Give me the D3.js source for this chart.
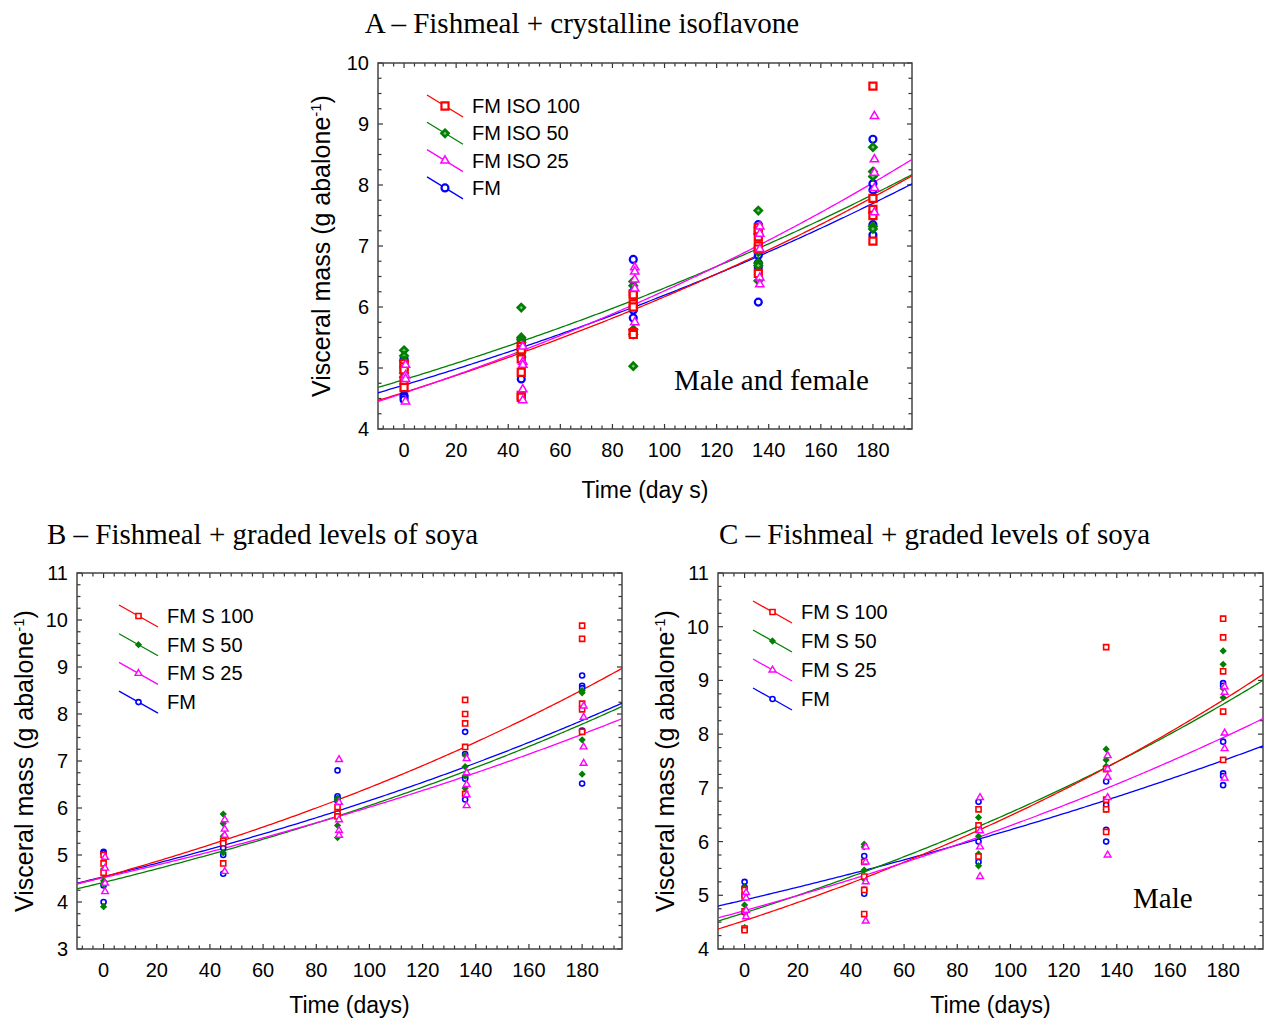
<!DOCTYPE html>
<html><head><meta charset="utf-8">
<script src="https://cdn.jsdelivr.net/npm/d3@7/dist/d3.min.js"></script>
<style>
body{margin:0;background:#fff;}
svg{display:block;}
.tick-label{font-family:"Liberation Sans",Arial,sans-serif;font-size:20px;fill:#000;}
.axis-title{font-family:"Liberation Sans",Arial,sans-serif;font-size:23px;fill:#000;}
.legend-text{font-family:"Liberation Sans",Arial,sans-serif;font-size:20px;fill:#000;}
.serif{font-family:"Liberation Serif","Times New Roman",serif;font-size:29px;fill:#000;}
</style></head>
<body>
<svg id="chart" width="1264" height="1021"></svg>
<script>
// ---------------- DATA ----------------
const days = [0, 45, 88, 136, 180];
const xTicks = [0, 20, 40, 60, 80, 100, 120, 140, 160, 180];
const colors = ["#ff0000", "#008000", "#ff00ff", "#0000ff"];

// Panel A
const titleA = "A \u2013 Fishmeal + crystalline isoflavone";
const seriesA = ["FM ISO 100", "FM ISO 50", "FM ISO 25", "FM"];
const yTicksA = [4, 5, 6, 7, 8, 9, 10];
const isoA100 = [[5.07, 5.02, 4.97, 4.8, 4.68], [5.35, 5.3, 5.15, 4.93, 4.55, 4.52], [6.22, 6.2, 6.05, 6.0, 5.58, 5.55], [7.3, 7.25, 7.15, 7.0, 6.95, 6.55], [9.62, 7.78, 7.6, 7.5, 7.08]];
const isoA50 = [[5.29, 5.2, 5.12, 4.92, 4.85], [5.99, 5.5, 5.47, 5.42, 5.25, 5.18], [6.42, 6.35, 5.63, 5.55, 5.03], [7.58, 7.2, 6.9, 6.72, 6.68, 6.43], [8.62, 8.22, 8.14, 7.32, 7.28]];
const isoA25 = [[5.05, 4.88, 4.82, 4.45], [5.35, 5.1, 5.05, 4.65, 4.47], [6.65, 6.58, 6.45, 6.3, 5.75], [7.32, 7.2, 6.95, 6.48, 6.37], [9.13, 8.42, 8.2, 7.95, 7.55]];
const fmA = [[5.15, 5.1, 4.55, 4.52, 4.48], [5.45, 5.4, 5.3, 4.82], [6.78, 6.25, 6.2, 6.0, 5.95, 5.82], [7.35, 7.3, 6.85, 6.72, 6.65, 6.08], [8.75, 8.02, 7.92, 7.35, 7.18]];
const fitA_a = [4.60, 4.81, 4.59, 4.72];
const fitA_b = [0.002933, 0.002717, 0.003111, 0.002718];

// Panel B
const titleB = "B \u2013 Fishmeal + graded levels of soya";
const seriesBC = ["FM S 100", "FM S 50", "FM S 25", "FM"];
const yTicksB = [3, 4, 5, 6, 7, 8, 9, 10, 11];
const soyB100 = [[5.0, 4.82, 4.62], [5.3, 5.25, 4.82], [6.02, 5.88, 5.82], [8.3, 8.0, 7.8, 7.3, 6.3], [9.88, 9.6, 8.22, 8.1, 7.62]];
const soyB50 = [[4.7, 4.45, 4.38, 3.9], [5.87, 5.67, 5.4, 5.05], [6.2, 6.15, 5.85, 5.63, 5.37], [7.12, 6.88, 6.68, 6.42], [8.5, 8.45, 8.12, 7.45, 6.72]];
const soyB25 = [[4.95, 4.72, 4.4, 4.22], [5.75, 5.55, 5.42, 4.65], [7.03, 6.12, 5.75, 5.52, 5.42], [7.05, 6.75, 6.5, 6.28, 6.05], [8.17, 7.93, 7.3, 6.95]];
const fmB = [[5.07, 5.04, 4.35, 4.0], [5.15, 5.0, 4.6], [6.8, 6.25, 6.2, 6.15], [7.62, 7.15, 6.65, 6.62, 6.18], [8.82, 8.6, 8.55, 7.65, 6.52]];
const fitB_a = [4.536, 4.417, 4.518, 4.537];
const fitB_b = [0.003497, 0.003148, 0.002866, 0.003054];

// Panel C
const titleC = "C \u2013 Fishmeal + graded levels of soya";
const yTicksC = [4, 5, 6, 7, 8, 9, 10, 11];
const soyC100 = [[5.1, 4.98, 4.7, 4.38, 4.35], [5.62, 5.35, 5.1, 4.65], [6.6, 6.3, 6.22, 5.72], [9.62, 7.35, 6.78, 6.6, 6.18], [10.15, 9.8, 9.17, 8.42, 7.52]];
const soyC50 = [[5.15, 5.12, 4.82, 4.4], [5.95, 5.9, 5.47, 5.3], [6.45, 6.1, 5.77, 5.55], [7.72, 7.52, 7.4, 6.6], [9.55, 9.3, 8.85, 8.68]];
const soyC25 = [[5.05, 4.95, 4.72, 4.6], [5.9, 5.62, 5.25, 4.52], [6.82, 6.2, 5.9, 5.35], [7.6, 7.35, 7.2, 6.82, 5.75], [8.88, 8.78, 8.02, 7.73, 7.18]];
const fmC = [[5.25, 5.15, 5.0, 4.68], [5.73, 5.1, 5.03], [6.74, 6.0, 5.62], [7.12, 6.68, 6.22, 6.0], [8.95, 8.9, 7.86, 7.27, 7.22, 7.05]];
const fitC_a = [4.53, 4.674, 4.714, 4.914];
const fitC_b = [0.003584, 0.00336, 0.002894, 0.002356];

// ---------------- DRAWING ----------------
const svg = d3.select("#chart");
const diamondType = d3.symbolDiamond2 || d3.symbolSquare;
const symbolTypes = [d3.symbolSquare, diamondType, d3.symbolTriangle, d3.symbolCircle];

function drawPanel(cfg) {
  const g = svg.append("g");
  const x = d3.scaleLinear().domain([-10, 195]).range([cfg.left, cfg.right]);
  const y = d3.scaleLinear().domain(cfg.yDomain).range([cfg.bottom, cfg.top]);
  const clipId = "clip" + cfg.id;
  svg.append("clipPath").attr("id", clipId).append("rect")
    .attr("x", cfg.left).attr("y", cfg.top).attr("width", cfg.right - cfg.left).attr("height", cfg.bottom - cfg.top);

  // ticks (inward, all four sides)
  const minorX = d3.range(-8, 195, 4);
  const minorY = d3.range(cfg.yDomain[0], cfg.yDomain[1] + 0.001, 0.25);
  const tg = g.append("g").attr("stroke", "#333").attr("stroke-width", 1.2);
  minorX.forEach(v => {
    const len = (v % 20 === 0) ? 5 : 3.5;
    tg.append("line").attr("x1", x(v)).attr("x2", x(v)).attr("y1", cfg.bottom).attr("y2", cfg.bottom - len);
    tg.append("line").attr("x1", x(v)).attr("x2", x(v)).attr("y1", cfg.top).attr("y2", cfg.top + len);
  });
  minorY.forEach(v => {
    const len = (Math.abs(v - Math.round(v)) < 1e-6) ? 5 : 3.5;
    tg.append("line").attr("y1", y(v)).attr("y2", y(v)).attr("x1", cfg.left).attr("x2", cfg.left + len);
    tg.append("line").attr("y1", y(v)).attr("y2", y(v)).attr("x1", cfg.right).attr("x2", cfg.right - len);
  });
  // frame
  g.append("rect").attr("x", cfg.left).attr("y", cfg.top)
    .attr("width", cfg.right - cfg.left).attr("height", cfg.bottom - cfg.top)
    .attr("fill", "none").attr("stroke", "#444").attr("stroke-width", 1.5);

  // tick labels
  g.selectAll(".xl").data(xTicks).enter().append("text").attr("class", "tick-label")
    .attr("x", d => x(d)).attr("y", cfg.bottom + 28).attr("text-anchor", "middle").text(d => d);
  g.selectAll(".yl").data(cfg.yTicks).enter().append("text").attr("class", "tick-label")
    .attr("x", cfg.left - 9).attr("y", d => y(d) + 7).attr("text-anchor", "end").text(d => d);

  // axis titles
  g.append("text").attr("class", "axis-title")
    .attr("x", (cfg.left + cfg.right) / 2).attr("y", cfg.bottom + cfg.xTitleDy)
    .attr("text-anchor", "middle").attr("xml:space", "preserve").text(cfg.xTitle);
  const yt = g.append("text").attr("class", "axis-title").style("font-size", "25px")
    .attr("transform", `translate(${cfg.yTitleX},${(cfg.top + cfg.bottom) / 2}) rotate(-90)`)
    .attr("text-anchor", "middle");
  yt.append("tspan").text("Visceral mass (g abalone");
  yt.append("tspan").attr("dy", -9).style("font-size", "15px").text("-1");
  yt.append("tspan").attr("dy", 9).text(")");

  // chart title
  g.append("text").attr("class", "serif").attr("x", cfg.titleX).attr("y", cfg.titleY)
    .attr("text-anchor", cfg.titleAnchor).text(cfg.title);
  if (cfg.note) {
    g.append("text").attr("class", "serif").attr("x", cfg.noteX).attr("y", cfg.noteY).text(cfg.note);
  }

  // fitted lines
  const xs = d3.range(-10, 195.01, 1);
  const lg = g.append("g").attr("clip-path", `url(#${clipId})`);
  const drawOrder = [3, 1, 0, 2];
  drawOrder.forEach(i => {
    const line = d3.line().x(d => x(d)).y(d => y(cfg.fitA[i] * Math.exp(cfg.fitB[i] * d)));
    lg.append("path").attr("d", line(xs)).attr("fill", "none")
      .attr("stroke", colors[i]).attr("stroke-width", 1.3);
  });

  // points
  const pg = g.append("g");
  const offsets = [0, 0, 1.5, 0];
  drawOrder.forEach(i => {
    const ser = cfg.series[i];
    ser.forEach((vals, k) => {
      vals.forEach(v => {
        drawMarker(pg, i, x(days[k]) + offsets[i], y(v), cfg.big);
      });
    });
  });

  // legend
  const leg = g.append("g");
  cfg.legendNames.forEach((name, i) => {
    const cy = cfg.legY + i * cfg.legStep;
    leg.append("line").attr("x1", cfg.legX).attr("x2", cfg.legX + cfg.legW)
      .attr("y1", cy - 11).attr("y2", cy + 11).attr("stroke", colors[i]).attr("stroke-width", 1.3);
    drawMarker(leg, i, cfg.legX + cfg.legW / 2, cy, cfg.big);
    leg.append("text").attr("class", "legend-text").attr("x", cfg.legX + cfg.legW + 9)
      .attr("y", cy + 7).text(name);
  });
}

function drawMarker(parent, i, cx, cy, big) {
  const sizes = big ? [50, 32, 30, 38] : [26, 16, 20, 20];
  const sw = big ? [2.2, 2.6, 1.5, 2.2] : [1.6, 1.6, 1.4, 1.6];
  const fills = big ? ["#fff", "#7fbf7f", "#fff", "#fff"] : ["#fff", colors[1], "#fff", "#fff"];
  parent.append("path")
    .attr("d", d3.symbol().type(symbolTypes[i]).size(sizes[i])())
    .attr("transform", `translate(${cx},${cy})` + (d3.symbolDiamond2 || i !== 1 ? "" : " rotate(45)"))
    .attr("fill", fills[i]).attr("stroke", colors[i]).attr("stroke-width", sw[i]);
}

drawPanel({
  id: "A", left: 378, right: 912, top: 63, bottom: 429, yDomain: [4, 10], yTicks: yTicksA,
  series: [isoA100, isoA50, isoA25, fmA], fitA: fitA_a, fitB: fitA_b,
  xTitle: "Time (day s)", xTitleDy: 69, yTitleX: 330, title: titleA, titleX: 582, titleY: 33, titleAnchor: "middle",
  note: "Male and female", noteX: 674, noteY: 390, big: true,
  legendNames: seriesA, legX: 427, legW: 36, legY: 106, legStep: 27.3
});
drawPanel({
  id: "B", left: 77, right: 622, top: 573, bottom: 949, yDomain: [3, 11], yTicks: yTicksB,
  series: [soyB100, soyB50, soyB25, fmB], fitA: fitB_a, fitB: fitB_b,
  xTitle: "Time (days)", xTitleDy: 64, yTitleX: 33, title: titleB, titleX: 47, titleY: 544, titleAnchor: "start",
  big: false,
  legendNames: seriesBC, legX: 119, legW: 39, legY: 616, legStep: 28.7
});
drawPanel({
  id: "C", left: 718, right: 1263, top: 573, bottom: 949, yDomain: [4, 11], yTicks: yTicksC,
  series: [soyC100, soyC50, soyC25, fmC], fitA: fitC_a, fitB: fitC_b,
  xTitle: "Time (days)", xTitleDy: 64, yTitleX: 674, title: titleC, titleX: 719, titleY: 544, titleAnchor: "start",
  note: "Male", noteX: 1133, noteY: 908, big: false,
  legendNames: seriesBC, legX: 753, legW: 39, legY: 612, legStep: 29
});
</script>
</body></html>
